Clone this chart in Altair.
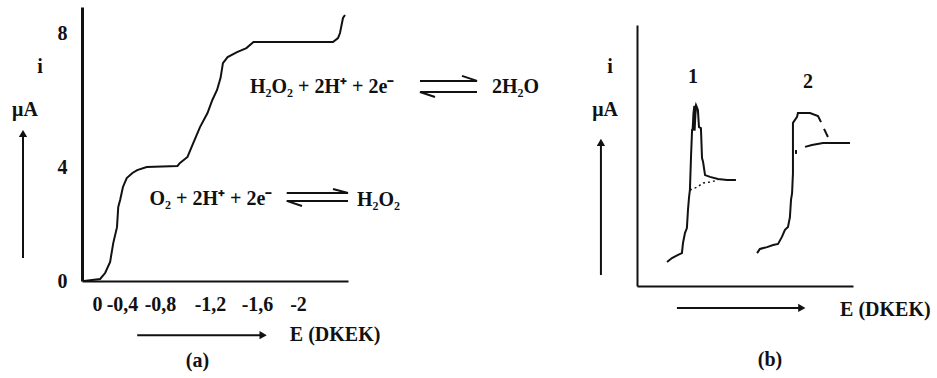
import altair as alt
import pandas as pd

FONT = "Liberation Serif"
WEIGHT = "bold"

# ---------- panel (a): two-step polarographic wave of dissolved oxygen ----------
E_a = [0.13, -0.05, -0.13, -0.21, -0.26, -0.32, -0.34, -0.37, -0.41, -0.45, -0.51, -0.56, -0.66,
       -0.94, -0.96, -1.02, -1.06, -1.12, -1.18, -1.22, -1.26, -1.29, -1.31, -1.35, -1.43, -1.51,
       -1.57, -2.35, -2.40, -2.42, -2.45, -2.47]
i_a = [0, 0.07, 0.28, 0.67, 1.33, 1.89, 2.60, 2.84, 3.30, 3.61, 3.79, 3.89, 4.0,
       4.03, 4.12, 4.30, 4.66, 5.19, 5.61, 6.00, 6.30, 6.66, 7.10, 7.28, 7.43, 7.55,
       7.73, 7.73, 7.85, 8.0, 8.45, 8.54]

x_ticks_a = [0, -0.4, -0.8, -1.2, -1.6, -2]
y_ticks_a = [0, 4, 8]

# hand-drawn axes: piecewise scales keep the printed tick spacing
XA_DOMAIN = [-2.5, -2.0, -1.6, -1.2, -0.8, -0.4, 0.0, 0.15]
XA_RANGE = [348, 298, 257, 210, 160, 122, 97, 82]
YA_DOMAIN = [0, 4, 8, 8.78]
YA_RANGE = [281, 167, 33, 7]

# ---------- panel (b): polarograms with maxima (1) and suppressed (2) ----------
c1_x = [13.9, 16.2, 19.0, 20.8, 21.3, 22.2, 23.1, 23.6, 24.1, 24.5, 25.0, 25.5, 26.4, 26.4,
        27.3, 28.2, 28.7, 29.6, 30.1, 30.6, 31.5, 33.8, 37.5, 41.7, 45.8]
c1_y = [9.2, 10.7, 11.9, 12.6, 16.5, 20.3, 22.2, 29.1, 34.1, 36.8, 49.4, 59.8, 60.5, 66.3,
        69.3, 67.4, 60.9, 60.5, 49.0, 47.5, 42.5, 41.8, 41.0, 40.6, 40.6]
c1_spike_x = [26.2, 26.6, 27.0]
c1_spike_y = [59.5, 66.0, 69.0]
c1_dot_x = [24.5, 27.8, 30.6, 33.8, 37.5]
c1_dot_y = [36.8, 37.9, 39.5, 39.8, 40.6]

c2_x = [55.6, 56.9, 60.2, 63.0, 65.3, 67.1, 68.5, 69.9, 70.8, 71.3, 71.8, 72.2, 72.2, 72.2,
        72.2, 74.1, 74.5, 80.1, 83.8, 85.2]
c2_y = [12.6, 14.2, 14.9, 15.7, 16.1, 18.8, 21.5, 22.6, 26.4, 33.0, 35.6, 43.3, 49.4, 57.1,
        62.5, 64.8, 66.3, 66.3, 65.1, 62.8]
c2_hook_x = [86.6, 88.4]
c2_hook_y = [60.2, 57.1]
c2_flat_x = [77.8, 81.0, 86.1, 98.6]
c2_flat_y = [53.3, 54.0, 54.8, 54.8]
c2_dash_x = [73.6, 73.6]
c2_dash_y = [52.1, 50.6]

XB_DOMAIN = [0, 100]
XB_RANGE = [637, 853]
YB_DOMAIN = [0, 100]
YB_RANGE = [286, 25]


def sx_a(axis=None):
    return alt.X("x:Q", scale=alt.Scale(domain=XA_DOMAIN, range=XA_RANGE, nice=False, zero=False), axis=axis)


def sy_a(axis=None):
    return alt.Y("y:Q", scale=alt.Scale(domain=YA_DOMAIN, range=YA_RANGE, nice=False, zero=False), axis=axis)


def sx_b(axis=None):
    return alt.X("x:Q", scale=alt.Scale(domain=XB_DOMAIN, range=XB_RANGE, nice=False, zero=False), axis=axis)


def sy_b(axis=None):
    return alt.Y("y:Q", scale=alt.Scale(domain=YB_DOMAIN, range=YB_RANGE, nice=False, zero=False), axis=axis)


def pts(xs, ys):
    return pd.DataFrame({"x": xs, "y": ys, "k": list(range(len(xs)))})


def segs(items):
    rows = []
    for name, xs, ys in items:
        for k, (x, y) in enumerate(zip(xs, ys)):
            rows.append({"seg": name, "x": x, "y": y, "k": k})
    return pd.DataFrame(rows)


def label(df, align, size=20):
    return alt.Chart(df).mark_text(font=FONT, fontSize=size, fontWeight=WEIGHT, color="#111111",
                                   align=align, baseline="middle")


axis_common = dict(title=None, grid=False, ticks=False, tickSize=0, domainColor="#111111",
                   labelFont=FONT, labelFontSize=20, labelFontWeight=WEIGHT, labelColor="#111111",
                   labelFlush=False, labelOverlap=False)

# curve (a) with its axes
curve_a = alt.Chart(pts(E_a, i_a)).mark_line(color="#111111", strokeWidth=2).encode(
    x=sx_a(alt.Axis(orient="bottom", offset=-97, values=x_ticks_a, domainWidth=2, labelPadding=13,
                    labelExpr="replace(toString(datum.value), '.', ',')", **axis_common)),
    y=sy_a(alt.Axis(orient="left", offset=-82, values=y_ticks_a, domainWidth=3, labelPadding=15,
                    **axis_common)),
    order="k:O",
)

# reaction equations and labels of panel (a)
txt_a_center = pd.DataFrame({
    "x": [0.57, 0.72, -1.10],
    "y": [6.99, 5.70, -2.81],
    "t": ["i", "μA", "(a)"],
})
txt_a_left = pd.DataFrame({
    "x": [-1.92, -1.54, -3.94, -0.69, -2.59],
    "y": [-1.90, 6.39, 6.39, 2.88, 2.84],
    "t": ["E (DKEK)", "H₂O₂ + 2H⁺ + 2e⁻", "2H₂O", "O₂ + 2H⁺ + 2e⁻", "H₂O₂"],
})
text_a1 = label(txt_a_center, "center").encode(x=sx_a(), y=sy_a(), text="t:N")
text_a2 = label(txt_a_left, "left").encode(x=sx_a(), y=sy_a(), text="t:N")

# equilibrium harpoons and axis-direction arrows of panel (a)
lines_a = segs([
    ("eq1_top", [-3.22, -3.79, -3.64], [6.57, 6.57, 6.72]),
    ("eq1_bot", [-3.37, -3.22, -3.79], [6.09, 6.24, 6.24]),
    ("eq2_top", [-1.89, -2.50, -2.35], [3.09, 3.09, 3.23]),
    ("eq2_bot", [-2.04, -1.89, -2.50], [2.63, 2.81, 2.81]),
    ("arr_y", [0.74, 0.74], [0.81, 4.95]),
    ("arr_x", [-0.56, -1.64], [-1.90, -1.90]),
])
rules_a = alt.Chart(lines_a).mark_line(color="#111111", strokeWidth=2).encode(
    x=sx_a(), y=sy_a(), detail="seg:N", order="k:O")
heads_a_up = alt.Chart(pd.DataFrame({"x": [0.74], "y": [5.0]})).mark_point(
    shape="triangle-up", filled=True, size=70, color="#111111", opacity=1).encode(x=sx_a(), y=sy_a())
heads_a_right = alt.Chart(pd.DataFrame({"x": [-1.66], "y": [-1.90]})).mark_point(
    shape="triangle-right", filled=True, size=70, color="#111111", opacity=1).encode(x=sx_a(), y=sy_a())

# curves of panel (b) with its bare axes
axis_b = dict(title=None, grid=False, ticks=False, labels=False, domainWidth=2, domainColor="#111111")
solid_b = segs([
    ("c1", c1_x, c1_y),
    ("c2", c2_x, c2_y),
    ("c2_hook", c2_hook_x, c2_hook_y),
    ("c2_flat", c2_flat_x, c2_flat_y),
    ("c2_dash", c2_dash_x, c2_dash_y),
])
curve_b = alt.Chart(solid_b).mark_line(color="#111111", strokeWidth=2).encode(
    x=sx_b(alt.Axis(orient="bottom", offset=-92, **axis_b)),
    y=sy_b(alt.Axis(orient="left", offset=-637, **axis_b)),
    detail="seg:N", order="k:O",
)
spike_b = alt.Chart(pts(c1_spike_x, c1_spike_y)).mark_line(color="#111111", strokeWidth=4).encode(
    x=sx_b(), y=sy_b(), order="k:O")
dotted_b = alt.Chart(pts(c1_dot_x, c1_dot_y)).mark_line(color="#111111", strokeWidth=1.5,
                                                       strokeDash=[2, 3]).encode(
    x=sx_b(), y=sy_b(), order="k:O")

txt_b_center = pd.DataFrame({
    "x": [-12.5, -14.8, 25.9, 79.2, 61.6],
    "y": [83.9, 67.4, 80.1, 78.2, -28.4],
    "t": ["i", "μA", "1", "2", "(b)"],
})
txt_b_left = pd.DataFrame({"x": [94.0], "y": [-9.2], "t": ["E (DKEK)"]})
text_b1 = label(txt_b_center, "center").encode(x=sx_b(), y=sy_b(), text="t:N")
text_b2 = label(txt_b_left, "left").encode(x=sx_b(), y=sy_b(), text="t:N")
lines_b = segs([
    ("arr_y", [-16.7, -16.7], [4.2, 54.5]),
    ("arr_x", [18.5, 75.5], [-8.4, -8.4]),
])
rules_b = alt.Chart(lines_b).mark_line(color="#111111", strokeWidth=2).encode(
    x=sx_b(), y=sy_b(), detail="seg:N", order="k:O")
heads_b_up = alt.Chart(pd.DataFrame({"x": [-16.7], "y": [55.0]})).mark_point(
    shape="triangle-up", filled=True, size=70, color="#111111", opacity=1).encode(x=sx_b(), y=sy_b())
heads_b_right = alt.Chart(pd.DataFrame({"x": [76.3], "y": [-8.4]})).mark_point(
    shape="triangle-right", filled=True, size=70, color="#111111", opacity=1).encode(x=sx_b(), y=sy_b())

chart = alt.layer(
    curve_a, text_a1, text_a2, rules_a, heads_a_up, heads_a_right,
    curve_b, spike_b, dotted_b, text_b1, text_b2, rules_b, heads_b_up, heads_b_right,
).resolve_scale(x="independent", y="independent").properties(
    width=937, height=378, padding=0,
    autosize=alt.AutoSizeParams(type="none"),
    background="white",
).configure_view(stroke=None)

chart.save("out.html", embed_options={"renderer": "svg", "actions": False})
